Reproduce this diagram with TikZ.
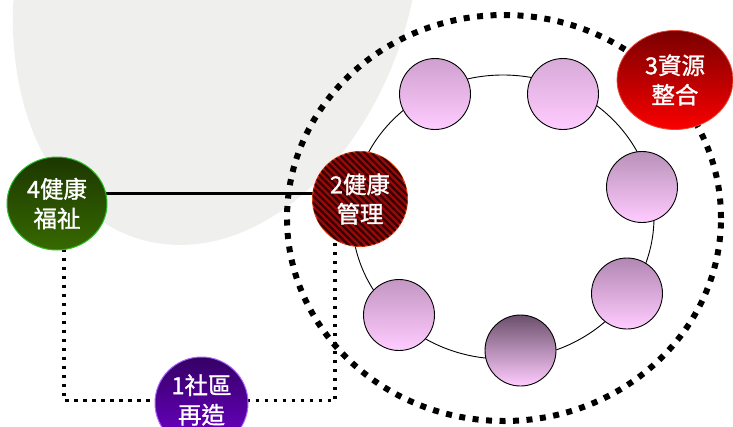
\documentclass[tikz,border=0pt]{standalone}
\usepackage{fontspec}
\newfontfamily\cjk[FakeBold=1.2]{Noto Sans CJK TC}
\usetikzlibrary{shapes.geometric,patterns.meta}
\pgfdeclarelayer{back}
\pgfdeclarelayer{mid}
\pgfsetlayers{back,mid,main}
\definecolor{blobgray}{RGB}{239,239,237}
\definecolor{gtop}{RGB}{28,55,0}
\definecolor{gbot}{RGB}{55,105,0}
\definecolor{gborder}{RGB}{40,190,40}
\definecolor{rfill}{RGB}{150,10,10}
\definecolor{rstripe}{RGB}{55,0,0}
\definecolor{rborder}{RGB}{230,70,20}
\definecolor{r3top}{RGB}{122,0,0}
\definecolor{r3bot}{RGB}{250,0,0}
\definecolor{r3border}{RGB}{235,70,50}
\definecolor{ptop}{RGB}{52,0,100}
\definecolor{pbot}{RGB}{112,0,205}
\definecolor{pborder}{RGB}{170,100,255}
\definecolor{pinkbot}{RGB}{255,204,255}
\definecolor{ctopa}{RGB}{207,160,207}
\definecolor{ctopb}{RGB}{215,170,215}
\definecolor{ctopc}{RGB}{185,145,185}
\definecolor{ctopd}{RGB}{178,135,178}
\definecolor{ctope}{RGB}{108,80,108}
\definecolor{ctopf}{RGB}{195,150,195}
\tikzset{
  lbl/.style={ellipse, inner sep=0pt, text=white, align=center,
    font=\cjk\fontsize{23.5}{29.5}\selectfont},
  smallc/.style={circle, minimum size=71pt, inner sep=0pt, draw=black, line width=0.9pt},
  solidline/.style={draw=black, line width=2.5pt},
  dotline/.style={draw=black, line width=3.5pt, dash pattern=on 3.5pt off 5.5pt},
  bigdots/.style={draw=black, line width=6pt, dash pattern=on 6pt off 7.5pt},
}
\begin{document}
\begin{tikzpicture}[x=1pt,y=1pt]
\useasboundingbox (0,0) rectangle (733,-426);

% nodes
\node[lbl, minimum width=100pt, minimum height=93pt, draw=gborder, line width=1pt,
  top color=gtop, bottom color=gbot] (n4) at (57,-203.5) {4健康\\福祉};
\node[lbl, minimum width=95pt, minimum height=95pt, draw=rborder, line width=1pt,
  fill=rfill,
  postaction={pattern={Lines[angle=-45,distance=4.8pt,line width=2.2pt]}, pattern color=rstripe}] (n2) at (360,-199) {2健康\\管理};
\node[lbl, minimum width=116pt, minimum height=99pt, draw=r3border, line width=0.8pt,
  top color=r3top, bottom color=r3bot] (n3) at (675,-80) {3資源\\整合};
\node[lbl, minimum width=93pt, minimum height=92pt, draw=pborder, line width=1pt,
  top color=ptop, bottom color=pbot] (n1) at (201.5,-403)
  {\raisebox{4pt}{\begin{tabular}{@{}c@{}}1社區\\再造\end{tabular}}};

\node[smallc, top color=ctopa, bottom color=pinkbot] (c1) at (435,-94) {};
\node[smallc, top color=ctopb, bottom color=pinkbot] (c2) at (563,-94) {};
\node[smallc, top color=ctopc, bottom color=pinkbot] (c3) at (642,-187) {};
\node[smallc, top color=ctopd, bottom color=pinkbot] (c4) at (627,-293.5) {};
\node[smallc, top color=ctope, bottom color=pinkbot] (c5) at (520.5,-350.5) {};
\node[smallc, top color=ctopf, bottom color=pinkbot] (c6) at (399,-315) {};

\begin{pgfonlayer}{back}
  \begin{scope}
    \clip (0,0) rectangle (733,-426);
    \fill[blobgray, rotate around={74.5:(217,30)}] (217,30) ellipse [x radius=280pt, y radius=197pt];
  \end{scope}
  \draw[bigdots] (504,-218) ellipse [x radius=217pt, y radius=203pt];
  \draw[black, line width=0.9pt] (503,-217) ellipse [x radius=151pt, y radius=142pt];
\end{pgfonlayer}

\begin{pgfonlayer}{mid}
  \coordinate (ly) at (0,-193.5);
  \coordinate (hy) at (0,-400.5);
  \draw[solidline] (n4 |- ly) -- (n2 |- ly);
  \draw[dotline] ([xshift=7pt]n4.center) |- (n1 |- hy);
  \draw[dotline] (n1 |- hy) -| ([xshift=-25pt]n2.center);
\end{pgfonlayer}
\end{tikzpicture}
\end{document}
